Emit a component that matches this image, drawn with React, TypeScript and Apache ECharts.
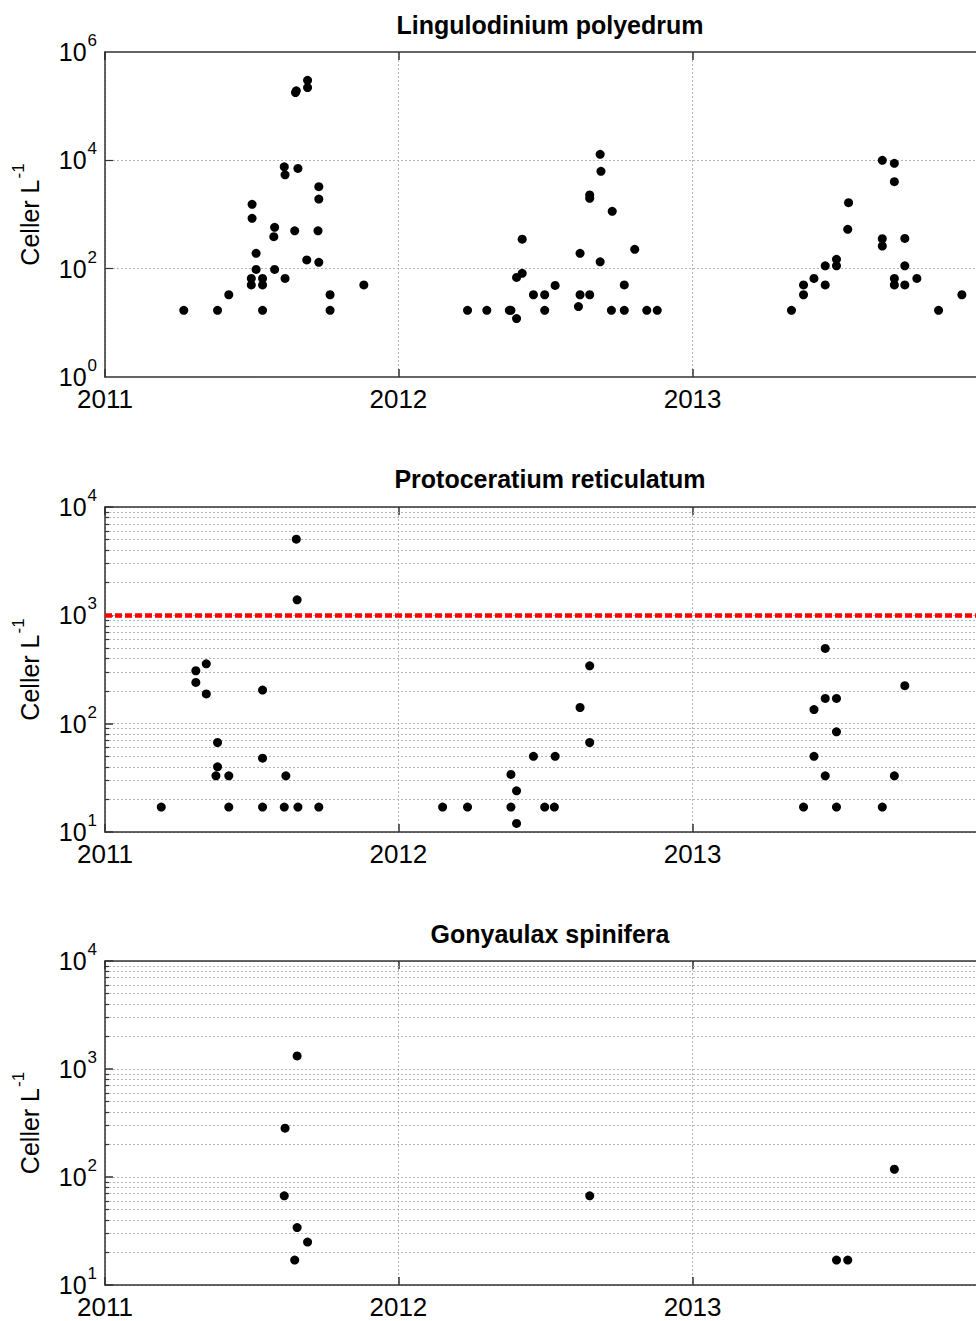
import React, { useEffect, useRef } from 'react';
import * as echarts from 'echarts';

const FONT = "'Liberation Sans', Arial, Helvetica, sans-serif";

const panelTitles = ['Lingulodinium polyedrum', 'Protoceratium reticulatum', 'Gonyaulax spinifera'];
const yName = 'Celler L';
const yNameExp = '-1';
const xMin = '2011-01-01';
const xMax = '2014-01-01';

// Lingulodinium polyedrum
const lingDates = [
  '2011-04-09', '2011-05-21', '2011-06-04', '2011-07-02', '2011-07-02', '2011-07-03', '2011-07-03',
  '2011-07-08', '2011-07-08', '2011-07-16', '2011-07-16', '2011-07-16', '2011-07-30', '2011-07-31',
  '2011-07-31', '2011-08-12', '2011-08-13', '2011-08-13', '2011-08-25', '2011-08-26', '2011-08-27',
  '2011-08-29', '2011-09-10', '2011-09-10', '2011-09-09', '2011-09-24', '2011-09-24', '2011-09-23',
  '2011-09-24', '2011-10-08', '2011-10-08', '2011-11-19',
  '2012-03-27', '2012-04-20', '2012-05-18', '2012-05-20', '2012-05-27', '2012-05-27', '2012-06-03',
  '2012-06-03', '2012-06-17', '2012-07-01', '2012-07-01', '2012-07-14', '2012-08-12', '2012-08-14',
  '2012-08-14', '2012-08-26', '2012-08-26', '2012-08-26', '2012-09-08', '2012-09-09', '2012-09-08',
  '2012-09-23', '2012-09-22', '2012-10-08', '2012-10-08', '2012-10-21', '2012-11-05', '2012-11-18',
  '2013-05-04', '2013-05-19', '2013-05-19', '2013-06-01', '2013-06-15', '2013-06-15', '2013-06-29',
  '2013-06-29', '2013-07-14', '2013-07-13', '2013-08-25', '2013-08-25', '2013-08-25', '2013-09-09',
  '2013-09-09', '2013-09-09', '2013-09-09', '2013-09-22', '2013-09-22', '2013-09-22', '2013-10-07',
  '2013-11-03', '2013-12-02',
];
const lingValues = [
  17, 17, 33, 66, 50, 850, 1540,
  192, 97, 66, 50, 17, 390, 580,
  97, 7600, 5400, 66, 500, 178000, 192000,
  7100, 300000, 220000, 145, 3260, 1930, 500,
  131, 33, 17, 50,
  17, 17, 17, 17, 12, 69, 82,
  350, 33, 33, 17, 49, 20, 33,
  192, 33, 2290, 1990, 12900, 6270, 134,
  1145, 17, 50, 17, 228, 17, 17,
  17, 50, 33, 66, 113, 50, 149,
  113, 1650, 532, 10000, 357, 262, 8800,
  4030, 66, 50, 361, 113, 50, 66,
  17, 33,
];

// Protoceratium reticulatum
const protoDates = [
  '2011-03-12', '2011-04-24', '2011-04-24', '2011-05-07', '2011-05-07', '2011-05-21', '2011-05-21',
  '2011-05-19', '2011-06-04', '2011-06-04', '2011-07-16', '2011-07-16', '2011-07-16', '2011-08-12',
  '2011-08-14', '2011-08-27', '2011-08-28', '2011-08-29', '2011-09-24',
  '2012-02-25', '2012-03-27', '2012-05-20', '2012-05-20', '2012-05-27', '2012-05-27', '2012-06-17',
  '2012-07-01', '2012-07-13', '2012-07-14', '2012-08-14', '2012-08-26', '2012-08-26',
  '2013-05-19', '2013-06-01', '2013-06-01', '2013-06-15', '2013-06-15', '2013-06-15', '2013-06-29',
  '2013-06-29', '2013-06-29', '2013-08-25', '2013-09-09', '2013-09-22',
];
const protoValues = [
  17, 308, 240, 357, 188, 67, 40,
  33, 33, 17, 204, 48, 17, 17,
  33, 5050, 1390, 17, 17,
  17, 17, 17, 34, 24, 12, 50,
  17, 17, 50, 141, 342, 67,
  17, 135, 50, 495, 171, 33, 171,
  84, 17, 17, 33, 224,
];

// Gonyaulax spinifera
const gonyDates = [
  '2011-08-13', '2011-08-12', '2011-08-28', '2011-08-28', '2011-08-25', '2011-09-10',
  '2012-08-26', '2013-06-29', '2013-07-13', '2013-09-09',
];
const gonyValues = [283, 67, 1320, 34, 17, 25, 67, 17, 17, 118];

const yMins = [1, 10, 10];
const yMaxs = [1e6, 1e4, 1e4];
const lingLabelStep = 2;
const lingGridValues = [100, 10000];
const minorGridValues = [
  20, 30, 40, 50, 60, 70, 80, 90,
  200, 300, 400, 500, 600, 700, 800, 900,
  2000, 3000, 4000, 5000, 6000, 7000, 8000, 9000,
];
const protoThreshold = 1000;

export default function App() {
  const ref = useRef<HTMLDivElement>(null);

  useEffect(() => {
    if (!ref.current) return;
    const chart = echarts.init(ref.current, undefined, { renderer: 'svg' });

    const tops = [52, 507, 961];
    const heights = [325, 325, 324];
    const titleTops = [7, 461, 916];
    const AX = '#333';
    const GRIDC = '#b5b5b5';
    const DOT: number[] = [2, 2];
    const DAY = 86400000;
    const t0 = echarts.time.parse(xMin).getTime();

    const rich = {
      b: { fontSize: 25, fontFamily: FONT, color: '#000', lineHeight: 40 },
      s: { fontSize: 17, fontFamily: FONT, color: '#000', lineHeight: 17, verticalAlign: 'top', padding: [0, 0, 0, 1] },
    };

    const dataSets = [
      lingDates.map((d, k) => [d, lingValues[k]]),
      protoDates.map((d, k) => [d, protoValues[k]]),
      gonyDates.map((d, k) => [d, gonyValues[k]]),
    ];

    const gridLine = (v: number) => ({
      yAxis: v,
      lineStyle: { color: GRIDC, type: DOT, width: 1 },
    });
    const tickSeg = (v: number, days: number) => [
      { coord: [t0, v], lineStyle: { color: AX, type: 'solid', width: 1.2 } },
      { coord: [t0 + days * DAY, v] },
    ];

    const markData: any[][] = [
      [...lingGridValues.map(gridLine), ...lingGridValues.map((v) => tickSeg(v, 10))],
      [
        ...minorGridValues.map(gridLine),
        ...minorGridValues.map((v) => tickSeg(v, 5)),
        { yAxis: protoThreshold, lineStyle: { color: '#ff0000', type: [7, 3], width: 4.5 } },
      ],
      [...minorGridValues.map(gridLine), ...minorGridValues.map((v) => tickSeg(v, 5))],
    ];

    const option: any = {
      animation: false,
      backgroundColor: '#fff',
      title: panelTitles.map((t, i) => ({
        text: t,
        left: 545,
        top: titleTops[i],
        textAlign: 'center',
        textStyle: { fontSize: 25, fontWeight: 'bold', fontFamily: FONT, color: '#000' },
      })),
      grid: tops.map((t, i) => ({
        left: 105,
        width: 881,
        top: t,
        height: heights[i],
        containLabel: false,
        outerBoundsMode: 'none',
      })),
      xAxis: [0, 1, 2].flatMap((i) => [
        {
          type: 'time',
          gridIndex: i,
          min: xMin,
          max: xMax,
          splitNumber: 3,
          axisLine: { show: true, lineStyle: { color: AX, width: 1.5 } },
          axisTick: { show: true, inside: true, length: 8, lineStyle: { color: AX, width: 1.5 } },
          axisLabel: {
            show: true,
            margin: 9,
            fontSize: 26,
            fontFamily: FONT,
            color: '#000',
            showMaxLabel: false,
            showMinLabel: true,
            formatter: (v: number) => String(new Date(v).getFullYear()),
          },
          splitLine: { show: true, lineStyle: { color: GRIDC, type: DOT, width: 1 } },
        },
        {
          type: 'time',
          gridIndex: i,
          position: 'top',
          min: xMin,
          max: xMax,
          splitNumber: 3,
          axisLine: { show: true, lineStyle: { color: AX, width: 1.5 } },
          axisTick: { show: true, inside: true, length: 8, lineStyle: { color: AX, width: 1.5 } },
          axisLabel: { show: false },
          splitLine: { show: false },
        },
      ]),
      yAxis: [0, 1, 2].map((i) => ({
        type: 'log',
        logBase: 10,
        gridIndex: i,
        min: yMins[i],
        max: yMaxs[i],
        splitNumber: i === 0 ? 6 : 3,
        axisLine: { show: true, lineStyle: { color: AX, width: 1.5 } },
        axisTick: { show: i !== 0, inside: true, length: 8, lineStyle: { color: AX, width: 1.5 } },
        axisLabel: {
          margin: 8,
          formatter: (v: number) => {
            const e = Math.round(Math.log10(v));
            if (i === 0 && e % lingLabelStep !== 0) return '';
            return `{b|10}{s|${e}}`;
          },
          rich,
        },
        splitLine: { show: i !== 0, lineStyle: { color: GRIDC, type: DOT, width: 1 } },
        name: `{b|${yName}}{s|${yNameExp}}`,
        nameLocation: 'middle',
        nameGap: 55,
        nameTextStyle: { rich },
      })),
      series: [0, 1, 2].map((i) => ({
        type: 'scatter',
        xAxisIndex: 2 * i,
        yAxisIndex: i,
        data: dataSets[i],
        symbol: 'circle',
        symbolSize: 9,
        itemStyle: { color: '#000', opacity: 1 },
        z: 10,
        silent: true,
        markLine: {
          silent: true,
          symbol: ['none', 'none'],
          label: { show: false },
          animation: false,
          data: markData[i],
        },
      })),
    };

    chart.setOption(option);
    return () => chart.dispose();
  }, []);

  return (
    <div
      ref={ref}
      style={{ position: 'fixed', left: 0, top: 0, width: 976, height: 1321, background: '#fff' }}
    />
  );
}
